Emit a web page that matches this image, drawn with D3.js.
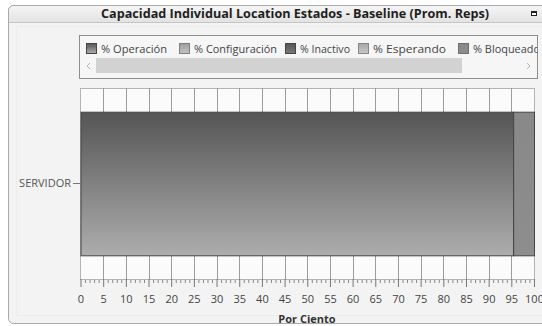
<!DOCTYPE html>
<html>
<head>
<meta charset="utf-8">
<script src="https://cdn.jsdelivr.net/npm/d3@7"></script>
<style>
  html, body { margin: 0; padding: 0; background: #ffffff; overflow: hidden; }
  svg { display: block; font-family: "Open Sans", "Noto Sans", sans-serif; }
</style>
</head>
<body>
<svg id="chart" width="542" height="326"></svg>
<script>
// Location state breakdown for one location (percent of time)
const locations = ["SERVIDOR"];
const seriesNames = ["% Operación", "% Configuración", "% Inactivo", "% Esperando", "% Bloqueado"];
const operacion = [95.4];
const configuracion = [0];
const inactivo = [0];
const esperando = [0];
const bloqueado = [4.6];
const xTicks = [0, 5, 10, 15, 20, 25, 30, 35, 40, 45, 50, 55, 60, 65, 70, 75, 80, 85, 90, 95, 100];
const titleText = "Capacidad Individual Location Estados - Baseline (Prom. Reps)";
const xTitle = "Por Ciento";

// Palette: top/bottom shade for each state
const shadeTop = ["#555555", "#9c9c9c", "#555555", "#a6a6a6", "#888888"];
const shadeBottom = ["#adadad", "#c4c4c4", "#7a7a7a", "#c8c8c8", "#8e8e8e"];

const seriesValues = [operacion, configuracion, inactivo, esperando, bloqueado];

const svg = d3.select("#chart");
const defs = svg.append("defs");

seriesNames.forEach((n, i) => {
  const g = defs.append("linearGradient").attr("id", "grad" + i)
    .attr("x1", 0).attr("y1", 0).attr("x2", 0).attr("y2", 1);
  g.append("stop").attr("offset", "0%").attr("stop-color", shadeTop[i]);
  g.append("stop").attr("offset", "100%").attr("stop-color", shadeBottom[i]);
});
const tb = defs.append("linearGradient").attr("id", "titleGrad")
  .attr("x1", 0).attr("y1", 0).attr("x2", 0).attr("y2", 1);
tb.append("stop").attr("offset", "0%").attr("stop-color", "#f6f6f6");
tb.append("stop").attr("offset", "100%").attr("stop-color", "#e2e2e2");

defs.append("clipPath").attr("id", "legendClip")
  .append("rect").attr("x", 80).attr("y", 36).attr("width", 457).attr("height", 42);

// Panel frame
svg.append("rect").attr("x", 8.5).attr("y", 5.5).attr("width", 560).attr("height", 318)
  .attr("rx", 5).attr("fill", "#f3f3f3").attr("stroke", "#a9a9a9");
svg.append("rect").attr("x", 16.5).attr("y", 26.5).attr("width", 560).attr("height", 289)
  .attr("fill", "none").attr("stroke", "#ececec");
// Title bar
svg.append("path")
  .attr("d", "M8.5,22.5 V10.5 A5,5 0 0 1 13.5,5.5 H560 V22.5 Z")
  .attr("fill", "url(#titleGrad)").attr("stroke", "#a9a9a9");
svg.append("line").attr("x1", 9).attr("x2", 542).attr("y1", 22.5).attr("y2", 22.5)
  .attr("stroke", "#c6c6c6");
svg.append("text").attr("x", 295).attr("y", 18)
  .attr("text-anchor", "middle").attr("font-size", 11.5).attr("font-weight", "bold")
  .attr("fill", "#1e1e1e")
  .attr("textLength", 388).attr("lengthAdjust", "spacingAndGlyphs")
  .text(titleText);
// Maximize glyph
svg.append("rect").attr("x", 531.5).attr("y", 11.5).attr("width", 5).attr("height", 4)
  .attr("fill", "#ffffff").attr("stroke", "#222");
svg.append("line").attr("x1", 531).attr("x2", 537).attr("y1", 12).attr("y2", 12)
  .attr("stroke", "#222").attr("stroke-width", 2);

// Legend box
svg.append("rect").attr("x", 79.5).attr("y", 35.5).attr("width", 458).attr("height", 43)
  .attr("fill", "#f6f6f6").attr("stroke", "#8e8e8e");
const legend = svg.append("g").attr("clip-path", "url(#legendClip)");
const legendX = [86, 179, 285, 358, 458];
const legendW = [66, 83, 50, 73, 67];
seriesNames.forEach((n, i) => {
  legend.append("rect").attr("x", legendX[i] + 0.5).attr("y", 43.5).attr("width", 10).attr("height", 10)
    .attr("fill", "url(#grad" + i + ")").attr("stroke", d3.color(shadeTop[i]).darker(0.6));
  legend.append("text").attr("x", legendX[i] + 15).attr("y", 53)
    .attr("font-size", 11.5).attr("fill", "#444")
    .attr("textLength", legendW[i]).attr("lengthAdjust", "spacingAndGlyphs")
    .text(n);
});
// Legend scroll bar
svg.append("rect").attr("x", 96).attr("y", 58).attr("width", 366).attr("height", 15)
  .attr("fill", "#d2d2d2");
svg.append("path").attr("d", "M90,63 L87,66 L90,69").attr("fill", "none").attr("stroke", "#b5b5b5");
svg.append("path").attr("d", "M527,63 L530,66 L527,69").attr("fill", "none").attr("stroke", "#b5b5b5");

// Plot area
const plot = { left: 80, right: 534, top: 88, bottom: 279 };
const x = d3.scaleLinear().domain([0, 100]).range([plot.left + 0.5, plot.right]);
const y = d3.scaleBand().domain(locations).range([plot.top, plot.bottom])
  .paddingInner(0).paddingOuter(0.165);

svg.append("rect").attr("x", plot.left + 0.5).attr("y", plot.top + 0.5)
  .attr("width", plot.right - plot.left).attr("height", plot.bottom - plot.top)
  .attr("fill", "#fbfbfb").attr("stroke", "#b4b4b4");

// Vertical grid lines
svg.append("g").selectAll("line").data(xTicks.slice(1, -1)).join("line")
  .attr("x1", d => Math.round(x(d)) + 0.5).attr("x2", d => Math.round(x(d)) + 0.5)
  .attr("y1", plot.top).attr("y2", plot.bottom)
  .attr("stroke", "#9c9c9c");

// Stacked bars
const stackData = locations.map((loc, j) => {
  const row = { loc };
  seriesNames.forEach((n, i) => { row[n] = seriesValues[i][j]; });
  return row;
});
const stacked = d3.stack().keys(seriesNames)(stackData);
svg.append("g").selectAll("g").data(stacked).join("g")
  .attr("fill", (d, i) => "url(#grad" + i + ")")
  .attr("stroke", "#444")
  .selectAll("rect").data(d => d.filter(p => p[1] - p[0] > 0)).join("rect")
  .attr("x", p => x(p[0]) + 0.5)
  .attr("y", p => y(p.data.loc) + 0.5)
  .attr("width", p => x(p[1]) - x(p[0]))
  .attr("height", y.bandwidth());

// Category axis
const yAxis = svg.append("g").attr("transform", `translate(${plot.left},0)`)
  .call(d3.axisLeft(y).tickSize(7).tickPadding(2));
yAxis.select(".domain").remove();
yAxis.selectAll(".tick line").attr("stroke", "#777");
yAxis.selectAll(".tick text").attr("font-size", 11).attr("fill", "#555")
  .attr("font-family", "'Open Sans', sans-serif");

// Value axis: minor ticks every 1, major every 5
const minor = d3.range(0, 101, 1).filter(v => v % 5 !== 0);
svg.append("g").attr("transform", `translate(0,${plot.bottom + 1})`)
  .call(d3.axisBottom(x).tickValues(minor).tickSize(3).tickFormat(""))
  .call(g => g.select(".domain").remove())
  .selectAll(".tick line").attr("stroke", "#888");
const xAxis = svg.append("g").attr("transform", `translate(0,${plot.bottom})`)
  .call(d3.axisBottom(x).tickValues(xTicks).tickSize(8).tickPadding(8).tickFormat(d3.format("d")));
xAxis.select(".domain").remove();
xAxis.selectAll(".tick line").attr("stroke", "#777");
xAxis.selectAll(".tick text").attr("font-size", 11).attr("fill", "#444")
  .attr("font-family", "'Open Sans', sans-serif");

svg.append("text").attr("x", (plot.left + plot.right) / 2).attr("y", 323)
  .attr("text-anchor", "middle").attr("font-size", 11).attr("font-weight", "bold")
  .attr("fill", "#333").text(xTitle);
</script>
</body>
</html>
